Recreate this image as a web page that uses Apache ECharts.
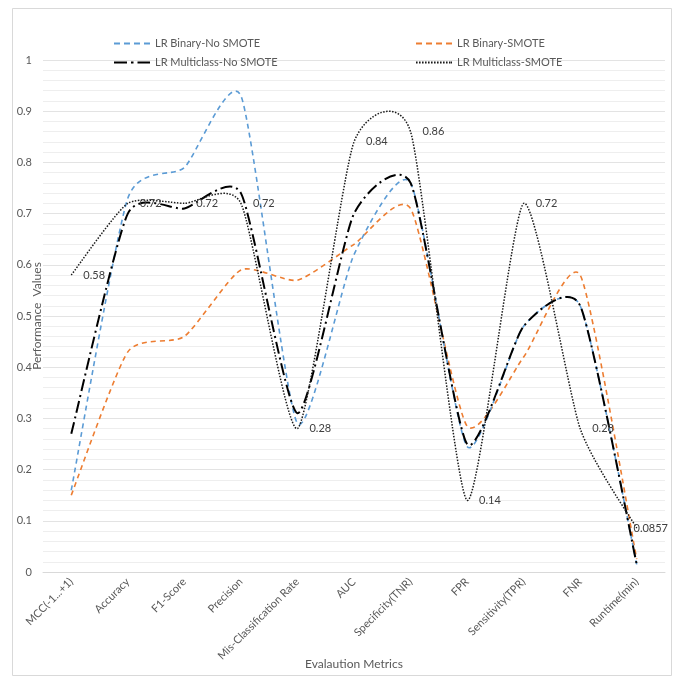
<!DOCTYPE html>
<html>
<head>
<meta charset="utf-8">
<script src="https://cdn.jsdelivr.net/npm/echarts@6/dist/echarts.min.js"></script>
<style>
  html, body { margin: 0; padding: 0; background: #ffffff; }
  #chart { width: 677px; height: 679px; }
</style>
</head>
<body>
<div id="chart"></div>
<script>
// Evaluation metrics for the logistic-regression variants
const categories = ['MCC(-1...+1)', 'Accuracy', 'F1-Score', 'Precision', 'Mis-Classification Rate',
  'AUC', 'Specificity(TNR)', 'FPR', 'Sensitivity(TPR)', 'FNR', 'Runtime(min)'];

const binaryNoSmote     = [0.16, 0.73, 0.79, 0.93, 0.29, 0.62, 0.76, 0.245, 0.48, 0.52, 0.015];
const binarySmote       = [0.15, 0.43, 0.46, 0.59, 0.57, 0.64, 0.71, 0.285, 0.42, 0.58, 0.025];
const multiclassNoSmote = [0.27, 0.70, 0.71, 0.74, 0.31, 0.70, 0.76, 0.25, 0.48, 0.52, 0.015];
const multiclassSmote   = [0.58, 0.72, 0.72, 0.72, 0.28, 0.84, 0.86, 0.14, 0.72, 0.28, 0.0857];

const seriesNames = ['LR Binary-No SMOTE', 'LR Binary-SMOTE', 'LR Multiclass-No SMOTE', 'LR Multiclass-SMOTE'];

const FONT = 'Lato, "Open Sans", sans-serif';
const TEXT_GREY = '#595959';
const TENSION = 0.1;   // cardinal-spline tension for the smoothed curves

// Legend glyphs that mimic each line's dash pattern (36 x 2 boxes)
const ICON_DASH = 'path://M0,0h6v2h-6zM10,0h6v2h-6zM20,0h6v2h-6zM30,0h6v2h-6z';
const ICON_DASHDOT = 'path://M0,0h13v2h-13zM17,0h2.5v2h-2.5zM23.5,0h12.5v2h-12.5z';
const ICON_DOT = 'path://' + Array.from({ length: 12 }, (_, i) => `M${i * 3},0h1.6v2h-1.6z`).join('') + 'M35,0h1v2h-1z';

const lineDefs = [
  { name: seriesNames[0], values: binaryNoSmote, color: '#5b9bd5', width: 1.6, dash: [5, 4], icon: ICON_DASH, z: 3 },
  { name: seriesNames[1], values: binarySmote, color: '#ed7d31', width: 1.6, dash: [5, 4], icon: ICON_DASH, z: 2 },
  { name: seriesNames[2], values: multiclassNoSmote, color: '#000000', width: 2, dash: [12, 4, 2, 4], icon: ICON_DASHDOT, z: 4 },
  { name: seriesNames[3], values: multiclassSmote, color: '#1a1a1a', width: 1.5, dash: [1.5, 1.5], icon: ICON_DOT, z: 5, labels: true }
];

// Smoothed path through pixel points (cubic Bezier, cardinal-spline control points)
function smoothPath(pts, k) {
  let d = `M${pts[0][0]},${pts[0][1]}`;
  for (let i = 0; i < pts.length - 1; i++) {
    const p0 = pts[i - 1] || pts[i];
    const p1 = pts[i];
    const p2 = pts[i + 1];
    const p3 = pts[i + 2] || pts[i + 1];
    const c1x = p1[0] + (p2[0] - p0[0]) * k, c1y = p1[1] + (p2[1] - p0[1]) * k;
    const c2x = p2[0] - (p3[0] - p1[0]) * k, c2y = p2[1] - (p3[1] - p1[1]) * k;
    d += `C${c1x},${c1y},${c2x},${c2y},${p2[0]},${p2[1]}`;
  }
  return d;
}

function makeSeries(def) {
  return {
    name: def.name,
    type: 'custom',
    data: def.values.map((v, i) => [i, v]),
    encode: { x: 0, y: 1 },
    itemStyle: { color: def.color },
    z: def.z,
    silent: true,
    renderItem: (params, api) => {
      const children = [];
      if (params.dataIndex === 0) {
        const pts = def.values.map((v, i) => api.coord([i, v]));
        children.push({
          type: 'path',
          shape: { pathData: smoothPath(pts, TENSION) },
          style: { fill: 'none', stroke: def.color, lineWidth: def.width, lineDash: def.dash }
        });
      }
      if (def.labels) {
        const p = api.coord([api.value(0), api.value(1)]);
        const text = String(api.value(1));
        const rightLimit = params.coordSys.x + params.coordSys.width + 3;
        const fits = p[0] + 12 + text.length * 6 <= rightLimit;
        children.push({
          type: 'text',
          x: fits ? p[0] + 12 : rightLimit,
          y: p[1],
          style: {
            text: text,
            fill: '#404040',
            font: `11px ${FONT}`,
            align: fits ? 'left' : 'right',
            verticalAlign: 'middle'
          }
        });
      }
      return { type: 'group', children };
    }
  };
}

function legendAt(def, left, top) {
  return {
    data: [{ name: def.name, icon: def.icon }],
    left: left,
    top: top,
    itemWidth: 36,
    itemHeight: 2,
    itemGap: 5,
    symbolKeepAspect: false,
    textStyle: { color: TEXT_GREY, fontFamily: FONT, fontSize: 11 },
    selectedMode: false
  };
}

const chart = echarts.init(document.getElementById('chart'), null, { renderer: 'canvas' });

chart.setOption({
  animation: false,
  backgroundColor: '#ffffff',
  graphic: [{
    type: 'rect',
    shape: { x: 12.5, y: 8.5, width: 659, height: 667 },
    style: { fill: 'none', stroke: '#d9d9d9', lineWidth: 1 },
    silent: true,
    z: -10
  }],
  legend: [
    legendAt(lineDefs[0], 109, 33),
    legendAt(lineDefs[1], 411, 33),
    legendAt(lineDefs[2], 109, 52),
    legendAt(lineDefs[3], 411, 52)
  ],
  grid: { left: 43, right: 12, top: 60, bottom: 107, containLabel: false, outerBoundsMode: 'none' },
  xAxis: {
    type: 'category',
    data: categories,
    boundaryGap: true,
    name: 'Evalaution Metrics',
    nameLocation: 'middle',
    nameGap: 86,
    nameMoveOverlap: false,
    nameTextStyle: { color: TEXT_GREY, fontFamily: FONT, fontSize: 12 },
    axisLine: { lineStyle: { color: '#d9d9d9', width: 1 } },
    axisTick: { show: false },
    axisLabel: {
      rotate: 45,
      interval: 0,
      margin: 8,
      color: TEXT_GREY,
      fontFamily: FONT,
      fontSize: 11
    },
    splitLine: { show: false }
  },
  yAxis: {
    type: 'value',
    min: 0,
    max: 1,
    interval: 0.1,
    name: 'Performance  Values',
    nameLocation: 'middle',
    nameRotate: 90,
    nameGap: 0,
    nameMoveOverlap: false,
    nameTextStyle: { color: TEXT_GREY, fontFamily: FONT, fontSize: 12 },
    axisLine: { show: false },
    axisTick: { show: false },
    axisLabel: {
      margin: 11,
      color: TEXT_GREY,
      fontFamily: FONT,
      fontSize: 11,
      formatter: v => String(Math.round(v * 10) / 10)
    },
    splitLine: { lineStyle: { color: '#e3e3e3', width: 1 } },
    minorTick: { show: false, splitNumber: 5 },
    minorSplitLine: { show: true, lineStyle: { color: '#eeeeee', width: 1 } }
  },
  series: lineDefs.map(makeSeries)
});
</script>
</body>
</html>
